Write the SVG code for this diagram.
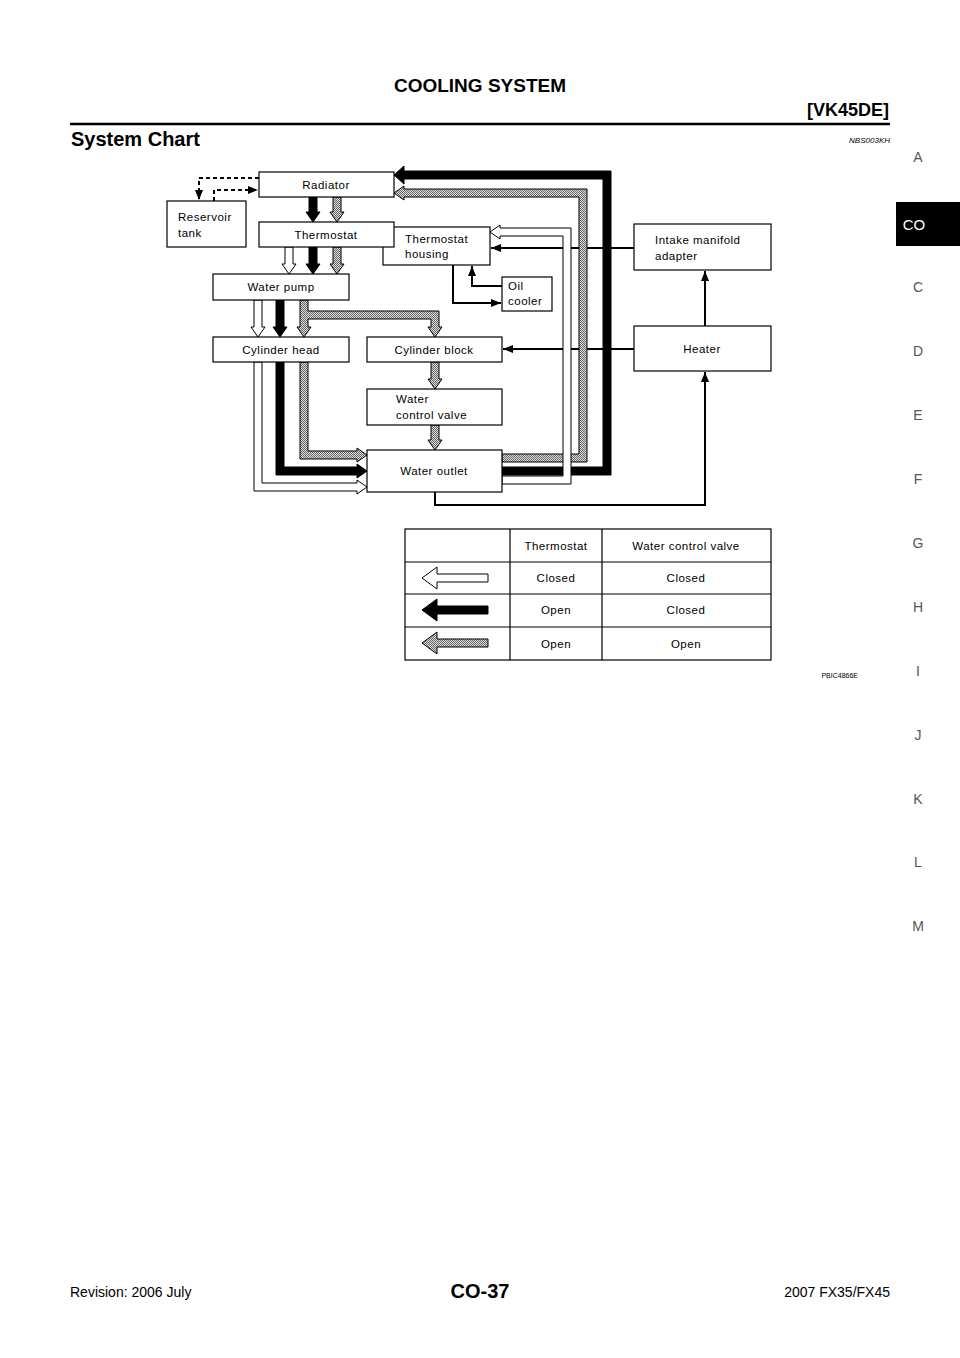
<svg xmlns="http://www.w3.org/2000/svg" width="960" height="1358" viewBox="0 0 960 1358">
<style>
text{font-family:"Liberation Sans",Arial,sans-serif;fill:#000}
.b{fill:#fff;stroke:#000;stroke-width:1.2}
.t{font-size:11.5px;letter-spacing:0.5px}
.w{fill:#fff;stroke:#000;stroke-width:1}
.k{fill:#000;stroke:#000;stroke-width:1}
.g{fill:url(#hatch);stroke:#000;stroke-width:1}
.ln{fill:none;stroke:#000;stroke-width:2}
.side{font-size:14px;fill:#555}
</style>
<defs>
<pattern id="hatch" width="2" height="2" patternUnits="userSpaceOnUse"><rect width="2" height="2" fill="#ddd"/><rect width="1" height="1" fill="#666"/><rect x="1" y="1" width="1" height="1" fill="#666"/></pattern>
<marker id="ah" viewBox="0 0 10 10" refX="10" refY="5" markerWidth="5" markerHeight="5" orient="auto"><path d="M0,1 L10,5 L0,9 z" fill="#000"/></marker>
</defs>
<rect width="960" height="1358" fill="#fff"/>
<text x="480" y="92" font-size="19" font-weight="bold" text-anchor="middle">COOLING SYSTEM</text>
<text x="889" y="116" font-size="18" font-weight="bold" text-anchor="end">[VK45DE]</text>
<line x1="70" y1="124" x2="890" y2="124" stroke="#000" stroke-width="2.5"/>
<text x="71" y="146" font-size="20" font-weight="bold">System Chart</text>
<text x="890" y="143" font-size="8" font-style="italic" text-anchor="end">NBS003KH</text>
<g id="sidetabs">
<text x="918" y="162" class="side" text-anchor="middle">A</text>
<rect x="896" y="202" width="64" height="44" fill="#000"/>
<text x="914" y="230" font-size="15" fill="#fff" style="fill:#fff" text-anchor="middle">CO</text>
<text x="918" y="292" class="side" text-anchor="middle">C</text>
<text x="918" y="356" class="side" text-anchor="middle">D</text>
<text x="918" y="420" class="side" text-anchor="middle">E</text>
<text x="918" y="484" class="side" text-anchor="middle">F</text>
<text x="918" y="548" class="side" text-anchor="middle">G</text>
<text x="918" y="612" class="side" text-anchor="middle">H</text>
<text x="918" y="676" class="side" text-anchor="middle">I</text>
<text x="918" y="740" class="side" text-anchor="middle">J</text>
<text x="918" y="804" class="side" text-anchor="middle">K</text>
<text x="918" y="867" class="side" text-anchor="middle">L</text>
<text x="918" y="931" class="side" text-anchor="middle">M</text>
</g>
<g id="connectors">
<path class="ln" d="M259,178 H199 V200" stroke-dasharray="4,3" marker-end="url(#ah)"/>
<path class="ln" d="M214,201 V190 H258" stroke-dasharray="4,3" marker-end="url(#ah)"/>
<path class="ln" d="M634,248 H491" marker-end="url(#ah)"/>
<path class="ln" d="M634,349 H503" marker-end="url(#ah)"/>
<path class="ln" d="M435,492 V505 H705 V372" marker-end="url(#ah)"/>
<path class="ln" d="M705,326 V271" marker-end="url(#ah)"/>
<path class="ln" d="M453,265 V303 H501" marker-end="url(#ah)"/>
<path class="ln" d="M502,286 H472 V266" marker-end="url(#ah)"/>
<polygon class="k" points="309,197 309,212 306,212 313,222 320,212 317,212 317,197"/>
<polygon class="g" points="333,197 333,212 330,212 337,222 344,212 341,212 341,197"/>
<polygon class="w" points="285,247 285,264 282,264 289,274 296,264 293,264 293,247"/>
<polygon class="k" points="309,247 309,264 306,264 313,274 320,264 317,264 317,247"/>
<polygon class="g" points="333,247 333,264 330,264 337,274 344,264 341,264 341,247"/>
<polygon class="w" points="254,300 254,327 251,327 258,337 265,327 262,327 262,300"/>
<polygon class="k" points="276,300 276,327 273,327 280,337 287,327 284,327 284,300"/>
<polygon class="g" points="300,300 300,327 297,327 304,337 311,327 308,327 308,319 431,319 431,327 428,327 435,337 442,327 439,327 439,311 308,311 308,300"/>
<polygon class="g" points="431,362 431,379 428,379 435,389 442,379 439,379 439,362"/>
<polygon class="g" points="431,425 431,440 428,440 435,450 442,440 439,440 439,425"/>
<polygon class="g" points="300,362 300,459 357,459 357,462 367,455 357,448 357,451 308,451 308,362"/>
<polygon class="k" points="276,362 276,475 357,475 357,478 367,471 357,464 357,467 284,467 284,362"/>
<polygon class="w" points="254,362 254,491 357,491 357,494 367,487 357,480 357,483 262,483 262,362"/>
<polygon class="g" points="502,462 587,462 587,189 404,189 404,186 394,193 404,200 404,197 579,197 579,454 502,454"/>
<polygon class="k" points="502,475 611,475 611,171 404,171 404,166 394,175 404,184 404,179 603,179 603,467 502,467"/>
<polygon class="w" points="502,484 571,484 571,228 500,228 500,225 490,232 500,239 500,236 563,236 563,476 502,476"/>
</g>
<g id="radiator"><rect class="b" x="259" y="172" width="135" height="25"/><text class="t" x="326" y="189" text-anchor="middle">Radiator</text></g>
<g id="reservoir"><rect class="b" x="167" y="201" width="79" height="46"/><text class="t" x="178" y="221">Reservoir</text><text class="t" x="178" y="237">tank</text></g>
<g id="thermostat-housing"><rect class="b" x="383" y="227" width="107" height="38"/><text class="t" x="405" y="243">Thermostat</text><text class="t" x="405" y="258">housing</text></g>
<g id="thermostat"><rect class="b" x="259" y="222" width="135" height="25"/><text class="t" x="326" y="239" text-anchor="middle">Thermostat</text></g>
<g id="oil-cooler"><rect class="b" x="502" y="277" width="50" height="34"/><text class="t" x="508" y="290">Oil</text><text class="t" x="508" y="305">cooler</text></g>
<g id="water-pump"><rect class="b" x="213" y="274" width="136" height="26"/><text class="t" x="281" y="291" text-anchor="middle">Water pump</text></g>
<g id="cylinder-head"><rect class="b" x="213" y="337" width="136" height="25"/><text class="t" x="281" y="354" text-anchor="middle">Cylinder head</text></g>
<g id="cylinder-block"><rect class="b" x="367" y="337" width="135" height="25"/><text class="t" x="434" y="354" text-anchor="middle">Cylinder block</text></g>
<g id="water-control-valve"><rect class="b" x="367" y="389" width="135" height="36"/><text class="t" x="396" y="403">Water</text><text class="t" x="396" y="419">control valve</text></g>
<g id="water-outlet"><rect class="b" x="367" y="450" width="135" height="42"/><text class="t" x="434" y="475" text-anchor="middle">Water outlet</text></g>
<g id="intake-manifold-adapter"><rect class="b" x="634" y="224" width="137" height="46"/><text class="t" x="655" y="244">Intake manifold</text><text class="t" x="655" y="260">adapter</text></g>
<g id="heater"><rect class="b" x="634" y="326" width="137" height="45"/><text class="t" x="702" y="353" text-anchor="middle">Heater</text></g>
<g id="legend">
<rect x="405" y="529" width="366" height="131" fill="#fff" stroke="#000" stroke-width="1.2"/>
<path d="M510,529 V660 M602,529 V660 M405,562 H771 M405,594 H771 M405,627 H771" stroke="#000" stroke-width="1.2"/>
<text class="t" x="556" y="550" text-anchor="middle">Thermostat</text>
<text class="t" x="686" y="550" text-anchor="middle">Water control valve</text>
<text class="t" x="556" y="582" text-anchor="middle">Closed</text><text class="t" x="686" y="582" text-anchor="middle">Closed</text>
<text class="t" x="556" y="614" text-anchor="middle">Open</text><text class="t" x="686" y="614" text-anchor="middle">Closed</text>
<text class="t" x="556" y="648" text-anchor="middle">Open</text><text class="t" x="686" y="648" text-anchor="middle">Open</text>
<polygon class="w" points="488,574 437,574 437,567 422,578 437,589 437,582 488,582"/>
<polygon class="k" points="488,606 437,606 437,599 422,610 437,621 437,614 488,614"/>
<polygon class="g" points="488,639 437,639 437,632 422,643 437,654 437,647 488,647"/>
</g>
<text x="858" y="678" font-size="7" text-anchor="end">PBIC4866E</text>
<text x="70" y="1297" font-size="14">Revision: 2006 July</text>
<text x="480" y="1298" font-size="20" font-weight="bold" text-anchor="middle">CO-37</text>
<text x="890" y="1297" font-size="14" text-anchor="end">2007 FX35/FX45</text>
</svg>
